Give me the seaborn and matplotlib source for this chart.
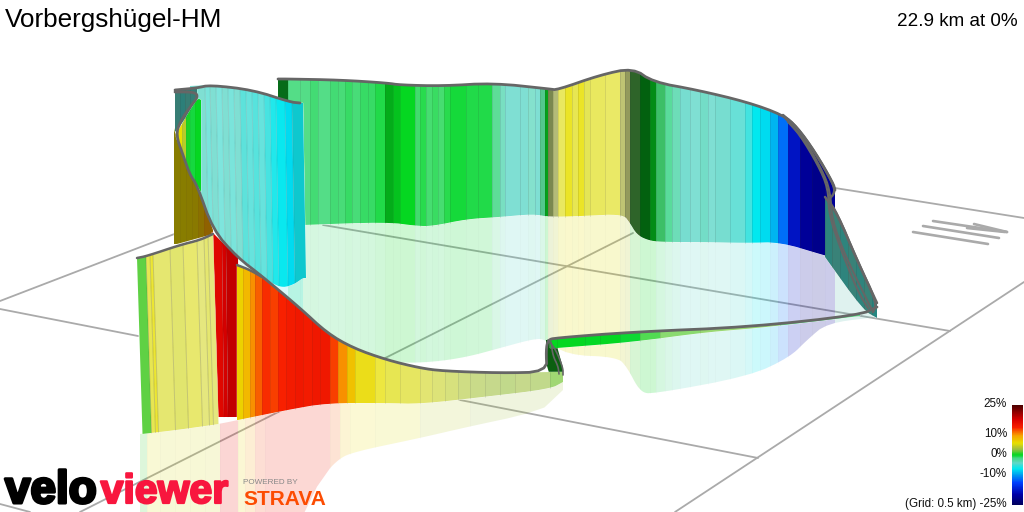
import numpy as np
import matplotlib
matplotlib.use("Agg")
import matplotlib.pyplot as plt
import matplotlib.patheffects as pe
from matplotlib.colors import LinearSegmentedColormap, to_rgb
import seaborn as sns

TITLE = "Vorbergshügel-HM"
SUMMARY = "22.9 km at 0%"
GRADE_TICKS = [25, 10, 0, -10, -25]
GRADE_LABELS = ["25%", "10%", "0%", "-10%", "(Grid: 0.5 km) -25%"]

# colour scale of the gradient
scale_grades = [-25, -20, -14, -10, -7, -4, -1.5, 0, 3, 6, 10, 14, 18, 25]
scale_colors = ["#000060", "#0000a8", "#0040ff", "#00a0f0", "#00e8f0", "#60d8c8", "#40d880",
                "#00d820", "#a0c040", "#e8e000", "#f8a000", "#f82000", "#d80000", "#500000"]

# ground grid
grid_a_x = [0, 177]; grid_a_y = [301, 233]
grid_b_x = [0, 138]; grid_b_y = [309, 336]
grid_c_x = [460, 758]; grid_c_y = [400, 458]
grid_d_x = [323, 950]; grid_d_y = [225, 331]
grid_e_x = [835, 1024]; grid_e_y = [188, 218]
grid_f_x = [80, 633]; grid_f_y = [512, 233]
grid_g_x = [675, 1024]; grid_g_y = [512, 282]
grid_h_x = [0, 30]; grid_h_y = [504, 512]

# mini map of the route
mini_x = [[933, 1007], [923, 999], [913, 988], [974, 1007], [967, 1005]]
mini_y = [[221, 232], [226, 238], [232, 244], [224, 232], [228, 232]]

# back wall
back_top_x = [278, 288, 340, 387, 400, 443, 493, 550, 557, 600, 633, 653, 697, 747, 783, 797, 815, 833, 835]
back_top_y = [79, 79, 80, 83, 85, 86, 83, 89, 90, 75, 68, 82, 90, 102, 115, 127, 152, 183, 190]
back_bot_x = [278, 303, 387, 417, 433, 467, 500, 533, 550, 583, 623, 630, 637, 650, 667, 700, 747, 780, 823, 835]
back_bot_y = [226, 225, 222, 226, 226, 219, 217, 214, 217, 216, 214, 223, 235, 241, 242, 242, 243, 242, 255, 258]
back_edges = [278, 288, 300, 310, 318, 330, 338, 345, 352, 360, 368, 375, 385, 393, 400, 415, 420, 426, 432, 438, 444, 450, 466, 478,
              492, 500, 505, 520, 528, 535, 540, 545, 548, 553, 558, 565, 572, 578, 584, 590, 605, 620, 625, 630, 640, 650, 656, 665,
              672, 680, 690, 700, 708, 715, 730, 745, 752, 760, 770, 778, 788, 800, 812, 825, 835]
back_grade = [-0.2, -1.3, -1.3, -1.1, -1.3, -1.0, -1.1, -0.8, -1.0, -0.8, -0.8, -0.5, 0, 0, 0, -0.8, -0.5, -0.9, -0.6, -0.9, -0.5, -0.2, -0.4,
              -0.4, -1.6, -3.2, -4, -4, -3.6, -4, -2, 0, 3, 4, 5.5, 6, 5.6, 6, 5.4, 5.6, 5.5, 4.5, 4, 1, 0, 0, -1.0, -2,
              -3, -4, -4, -3.6, -4, -4, -4.5, -5.5, -7, -7.5, -9, -12, -18, -21, -22, -21]
back_op = [1, 0.85, 0.85, 0.9, 0.85, 0.9, 0.88, 0.92, 0.88, 0.92, 0.92, 0.95, 1, 1, 1, 0.88, 0.92, 0.85, 0.88, 0.85, 0.92, 0.97, 0.95,
           0.95, 0.85, 0.8, 0.8, 0.8, 0.75, 0.8, 0.9, 1, 0.8, 0.6, 0.65, 0.85, 0.7, 0.85, 0.7, 0.65, 0.62, 0.6, 0.7, 0.9, 1, 1, 0.9, 0.9,
           0.85, 0.85, 0.8, 0.85, 0.8, 0.85, 0.85, 0.9, 1, 1, 1, 1, 1, 1, 1, 1]
back_shade = [0.5, 0, 0, 0, 0, 0, 0, 0, 0, 0, 0, 0, 0.2, 0.1, 0, 0, 0, 0, 0, 0, 0, 0, 0,
              0, 0, 0, 0, 0, 0, 0, 0.1, 0.25, 0.45, 0.3, 0, 0, 0, 0, 0, 0, 0, 0.25, 0.45, 0.6, 0.55, 0.35, 0.15, 0,
              0, 0, 0, 0, 0, 0, 0, 0, 0, 0, 0, 0, 0, 0, 0, 0]

# reflection below the back wall
mirror_x = [288, 330, 353, 400, 433, 467, 500, 533, 545, 567, 617, 627, 640, 653, 750, 790, 807, 827, 877]
mirror_y = [300, 345, 358, 363, 362, 357, 348, 339, 339, 355, 357, 367, 392, 394, 376, 357, 340, 323, 317]
mirror_end_edges = [835, 877]
mirror_end_grade = [-4]

# far right wall
right_top_x = [825, 837, 857, 877]
right_top_y = [197, 213, 260, 303]
right_bot_x = [825, 863, 877]
right_bot_y = [257, 310, 318]
right_edges = [825, 832, 840, 848, 856, 864, 872, 877]
right_grade = [-4.5, -4, -4.5, -4, -4.5, -4, -5]

# cyan wall
cyan_top_x = [190, 210, 253, 290, 300]
cyan_top_y = [86, 85, 90, 102, 103]
cyan_bot_x = [190, 197, 213, 237, 263, 280, 293, 303]
cyan_bot_y = [165, 185, 230, 255, 277, 288, 285, 278]
cyan_edges = [190, 205, 210, 216, 222, 228, 234, 240, 246, 252, 258, 264, 270, 276, 285, 292, 303]
cyan_grade = [-4, -4.5, -4, -4.5, -4, -4.5, -4, -5, -5, -5.2, -5, -5.5, -6.5, -7, -7.5, -7]
cyan_op = [0.8, 0.75, 0.8, 0.72, 0.8, 0.75, 0.8, 0.85, 0.8, 0.85, 0.8, 0.88, 0.92, 0.97, 1, 0.95]
cyan_shade = [0, 0, 0, 0, 0, 0, 0, 0, 0, 0, 0, 0, 0, 0, 0, 0.15]

# dark curl at the top left
curl_top_x = [175, 197]; curl_top_y = [90, 88]
curl_bot_x = [175, 183, 190, 197]; curl_bot_y = [132, 122, 110, 98]
curl_edges = [175, 180, 185, 190, 197]
curl_grade = [-4, -4.5, -4, -4.2]

# green and olive walls seen behind the descent
green_top_x = [176, 183, 190, 198, 201]; green_top_y = [135, 122, 110, 98, 100]
green_bot_x = [176, 183, 190, 197, 201]; green_bot_y = [137, 155, 175, 185, 192]
green_edges = [176, 182, 186, 190, 195, 201]
green_grade = [6, 4, 0.5, -0.5, 0]
olive_top_x = [174, 176, 183, 190, 197, 213]; olive_top_y = [128, 136, 155, 175, 185, 230]
olive_bot_x = [177, 213]; olive_bot_y = [244, 234]
olive_edges = [174, 180, 186, 192, 198, 204, 213]
olive_grade = [6.5, 6.5, 6.8, 7, 8, 9.5]

# steep red wall, behind
red_top_x = [212, 237]; red_top_y = [232, 257]
red_bot_x = [218, 238]; red_bot_y = [417, 417]
red_edges = [212, 222, 226, 238]
red_grade = [17, 18, 19]

# pale yellow wall, front left
pale_top_x = [137, 147, 180, 200, 213]
pale_top_y = [258, 256, 245, 240, 234]
pale_bot_x = [142, 177, 219]
pale_bot_y = [434, 430, 424]
pale_edges = [137, 146, 150, 153, 170, 183, 197, 204, 208, 213]
pale_grade = [1.5, 5.5, 6, 5.2, 5, 5.4, 5, 5.2, 5]
pale_op = [0.9, 0.7, 0.8, 0.6, 0.62, 0.6, 0.55, 0.6, 0.55]

# long climb, front
front_top_x = [237, 250, 262, 300, 327, 353, 387, 420, 443, 500, 547, 563]
front_top_y = [265, 270, 277, 308, 333, 348, 360, 368, 371, 373, 372, 372]
front_bot_x = [238, 287, 327, 387, 420, 483, 550, 563]
front_bot_y = [420, 410, 403, 403, 404, 397, 389, 382]
front_edges = [237, 243, 250, 255, 262, 270, 278, 286, 295, 303, 312, 320, 330, 338, 347, 355, 375, 385, 400, 420, 432, 445, 458, 470,
               485, 500, 515, 530, 550, 563]
front_grade = [7, 8.5, 10.5, 12, 13.5, 13, 14, 14.5, 15, 14.5, 15, 15, 13, 10.5, 8, 6.3, 6, 5.6, 5.4, 5, 4.6, 4.2, 3.6,
               3.2, 3, 2.8, 3, 2.8, 2.2]
front_op = [1, 1, 1, 1, 1, 1, 1, 1, 1, 1, 1, 1, 1, 1, 1, 0.9, 0.75, 0.7, 0.65, 0.6, 0.6, 0.6, 0.6,
            0.6, 0.6, 0.6, 0.6, 0.6, 0.7]

# reflection below the front walls
front_edge_x = [140, 177, 219, 238, 287, 327, 387, 420, 483, 550, 563]
front_edge_y = [434, 430, 424, 420, 410, 403, 403, 404, 397, 389, 382]
front_mirror_x = [140, 296, 307, 320, 337, 353, 420, 467, 533, 560, 563]
front_mirror_y = [560, 530, 507, 480, 460, 452, 438, 427, 413, 400, 390]
front_mirror_edges = [140, 147, 160, 175, 190, 205, 220, 238, 245, 255, 265, 330, 340, 350, 375, 420, 470, 563]
front_mirror_grade = [1, 5.5, 5.2, 5.4, 5.2, 5, 16, 7, 10, 13, 15, 12, 8, 6, 5.5, 4, 3]

# return ribbon, bright green
ribbon_top_x = [550, 555, 633, 750, 860]
ribbon_top_y = [339, 338, 332, 327, 314]
ribbon_bot_x = [557, 633, 707, 760, 860]
ribbon_bot_y = [348, 342, 332, 328, 316]
ribbon_edges = [550, 557, 585, 600, 620, 640, 660, 700, 780, 860]
ribbon_grade = [0, 0, -0.1, 0, -0.2, 0.6, 1.6, 2, -1]

# S bend between the two ribbons
bend_x = [546, 556, 558, 563, 563, 550, 547]
bend_y = [340, 340, 350, 368, 376, 376, 366]
bend_grade = 0.5

# route line
route_far_x = [175, 197, 210, 253, 290, 300]
route_far_y = [90, 88, 85, 90, 102, 103]
route_curl_x = [175, 195, 198, 190, 180, 176, 183, 190, 197, 213, 237, 263, 300, 327, 353, 387, 420, 443, 500, 547,
                546, 548, 555, 633, 750, 860, 877]
route_curl_y = [92, 92, 97, 107, 122, 135, 155, 175, 185, 230, 257, 277, 308, 333, 348, 360, 368, 371, 373, 372,
                350, 340, 338, 332, 327, 315, 307]
route_left_x = [137, 147, 180, 200, 213]
route_left_y = [258, 256, 245, 240, 234]
route_wedge_x = [237, 250, 262]
route_wedge_y = [265, 270, 277]
route_s_x = [548, 556, 563, 563]
route_s_y = [340, 350, 368, 375]
route_s2_x = [551, 553, 558, 559]
route_s2_y = [342, 356, 366, 374]
route_right_x = [783, 797, 815, 833, 835, 828, 837, 857, 877, 873]
route_right_y = [115, 127, 152, 183, 193, 200, 213, 260, 303, 312]
route_right2_x = [788, 805, 822, 830, 832, 845, 862, 872]
route_right2_y = [122, 140, 170, 190, 220, 255, 290, 310]
route_right3_x = [785, 800, 818, 828, 829, 841, 858, 868]
route_right3_y = [118, 135, 165, 188, 215, 250, 292, 308]

sns.set_theme(style="white")
plt.rcParams["font.family"] = ["Liberation Sans", "DejaVu Sans"]
fig = plt.figure(figsize=(10.24, 5.12), dpi=100, facecolor="white")
ax = fig.add_axes([0, 0, 1, 1])
ax.set_xlim(0, 1024); ax.set_ylim(512, 0); ax.axis("off")

cmap = LinearSegmentedColormap.from_list(
    "grade", [((g + 25) / 50, c) for g, c in zip(scale_grades, scale_colors)])


def paint(grade, shade=0.0):
    rgb = np.array(to_rgb(cmap((grade + 25) / 50)))
    return tuple(rgb * (1 - shade))


def rounded(x, y, passes=2):
    """Round the corners of a hand-read outline so it draws as a curve."""
    x, y = np.asarray(x, float), np.asarray(y, float)
    for _ in range(passes):
        qx = np.c_[0.75 * x[:-1] + 0.25 * x[1:], 0.25 * x[:-1] + 0.75 * x[1:]].ravel()
        qy = np.c_[0.75 * y[:-1] + 0.25 * y[1:], 0.25 * y[:-1] + 0.75 * y[1:]].ravel()
        x = np.r_[x[0], qx, x[-1]]
        y = np.r_[y[0], qy, y[-1]]
    return x, y


def wall(edges, grade, top_x, top_y, bot_x, bot_y, op=None, shade=None, skew=0.0, lines=0.12, base=True, z=2):
    edges = np.asarray(edges, float)
    n = len(grade)
    op = [1.0] * n if op is None else op
    shade = [0.0] * n if shade is None else shade
    tx, ty = rounded(top_x, top_y)
    bx, by = rounded(bot_x, bot_y)
    for i in range(n):
        s = np.linspace(edges[i], edges[i + 1], 6)
        t = np.interp(s, tx, ty)
        b = np.interp(s + skew, bx, by)
        px = np.r_[s, (s + skew)[::-1]]
        py = np.r_[t, b[::-1]]
        if base:
            ax.fill(px, py, color="white", lw=0.3, zorder=z)
        ax.fill(px, py, color=paint(grade[i], shade[i]), alpha=op[i], lw=0, zorder=z + 0.1)
        if lines and i:
            ax.plot([s[0], s[0] + skew], [t[0], b[0]], color="#333333", alpha=lines, lw=0.7, zorder=z + 0.2)


def line(x, y, color="#666666", lw=2.0, z=6, alpha=1.0, smooth=True):
    if smooth and len(x) > 2:
        x, y = rounded(x, y)
    sns.lineplot(x=x, y=y, sort=False, estimator=None, color=color, lw=lw, alpha=alpha, ax=ax, zorder=z, legend=False)


# ground grid and mini map
for gx, gy in [(grid_a_x, grid_a_y), (grid_b_x, grid_b_y), (grid_c_x, grid_c_y), (grid_d_x, grid_d_y),
               (grid_e_x, grid_e_y), (grid_f_x, grid_f_y), (grid_g_x, grid_g_y), (grid_h_x, grid_h_y)]:
    line(gx, gy, color="#aaaaaa", lw=1.3, z=0.5)
for mx, my in zip(mini_x, mini_y):
    line(mx, my, color="#aaaaaa", lw=1.9, z=0.6)

# reflections
wall(back_edges[1:], back_grade[1:], back_bot_x, back_bot_y, mirror_x, mirror_y,
     op=[0.2] * (len(back_grade) - 1), base=False, lines=0.015, z=1)
wall(mirror_end_edges, mirror_end_grade, right_bot_x, right_bot_y, mirror_x, mirror_y,
     op=[0.18], shade=[0.15], base=False, lines=0, z=1)
wall(cyan_edges[7:], cyan_grade[7:], cyan_bot_x, cyan_bot_y, mirror_x, mirror_y,
     op=[0.14] * len(cyan_grade[7:]), base=False, lines=0, z=1)
wall(front_mirror_edges, front_mirror_grade, front_edge_x, front_edge_y, front_mirror_x, front_mirror_y,
     op=[0.17] * len(front_mirror_grade), base=False, lines=0.015, z=1)

# walls, far to near
wall(back_edges, back_grade, back_top_x, back_top_y, back_bot_x, back_bot_y,
     op=back_op, shade=back_shade, z=2)
wall(right_edges, right_grade, right_top_x, right_top_y, right_bot_x, right_bot_y,
     shade=[0.4] * len(right_grade), z=2)
wall(olive_edges, olive_grade, olive_top_x, olive_top_y, olive_bot_x, olive_bot_y,
     shade=[0.42] * len(olive_grade), lines=0.06, z=2.5)
wall(cyan_edges, cyan_grade, cyan_top_x, cyan_top_y, cyan_bot_x, cyan_bot_y,
     op=cyan_op, shade=cyan_shade, skew=3, z=3)
wall(green_edges, green_grade, green_top_x, green_top_y, green_bot_x, green_bot_y, lines=0.05, z=3.5)
wall(curl_edges, curl_grade, curl_top_x, curl_top_y, curl_bot_x, curl_bot_y,
     shade=[0.42] * len(curl_grade), z=3.5)
wall(red_edges, red_grade, red_top_x, red_top_y, red_bot_x, red_bot_y, skew=2, z=4)
wall(pale_edges, pale_grade, pale_top_x, pale_top_y, pale_bot_x, pale_bot_y, op=pale_op, skew=5.5, lines=0.2, z=4.2)
ax.fill(bend_x, bend_y, color=paint(bend_grade, 0.55), lw=0, zorder=4.3)
wall(front_edges, front_grade, front_top_x, front_top_y, front_bot_x, front_bot_y, op=front_op, lines=0.1, z=4.4)
wall(ribbon_edges, ribbon_grade, ribbon_top_x, ribbon_top_y, ribbon_bot_x, ribbon_bot_y,
     op=[1, 1, 1, 1, 1, 0.8, 0.7, 0.7, 0.8], lines=0.1, z=4.6)

# route line
line(route_far_x, route_far_y)
line(route_curl_x, route_curl_y)
line(route_left_x, route_left_y, lw=1.8)
line(route_wedge_x, route_wedge_y, lw=1.8)
line(route_s_x, route_s_y, lw=1.2)
line(route_s2_x, route_s2_y, lw=1.2)
line(back_top_x, back_top_y)
line(right_top_x, right_top_y, lw=1.8)
line(route_right_x, route_right_y, lw=1.8)
line(route_right2_x, route_right2_y, lw=1.5)
line(route_right3_x, route_right3_y, lw=1.5)

# legend
bar = np.linspace(25, -25, 100)[:, None]
ax.imshow(bar, cmap=cmap, vmin=-25, vmax=25, extent=(1012, 1023, 505, 405), aspect="auto", zorder=7, interpolation="bilinear")
ax.set_xlim(0, 1024); ax.set_ylim(512, 0)
for g, lab in zip(GRADE_TICKS, GRADE_LABELS):
    ax.text(1007, 454 - 2 * g if abs(g) < 25 else (404 if g > 0 else 504), lab, ha="right", va="center", fontsize=8.4, color="#111111", zorder=8)

# texts
ax.text(5, 20, TITLE, fontsize=18.8, color="black", va="center", ha="left", zorder=8)
ax.text(1018, 21, SUMMARY, fontsize=13.6, color="black", va="center", ha="right", zorder=8)

# logo
fat = [pe.withStroke(linewidth=2.2, foreground="black")]
ax.text(5, 503, "velo", fontsize=33, fontweight="bold", color="black", va="baseline", ha="left", zorder=8, path_effects=fat)
fat_red = [pe.withStroke(linewidth=1.6, foreground="#f8163e")]
ax.text(228, 503, "viewer", fontsize=29.5, fontweight="bold", color="#f8163e", va="baseline", ha="right", zorder=8, path_effects=fat_red)
ax.text(243, 484, "POWERED BY", fontsize=5.9, color="#888888", va="baseline", ha="left", zorder=8)
ax.text(243, 505, "STRAVA", fontsize=15, fontweight="bold", color="#fc4c02", va="baseline", ha="left", zorder=8)

fig.savefig("out.png", dpi=100)
